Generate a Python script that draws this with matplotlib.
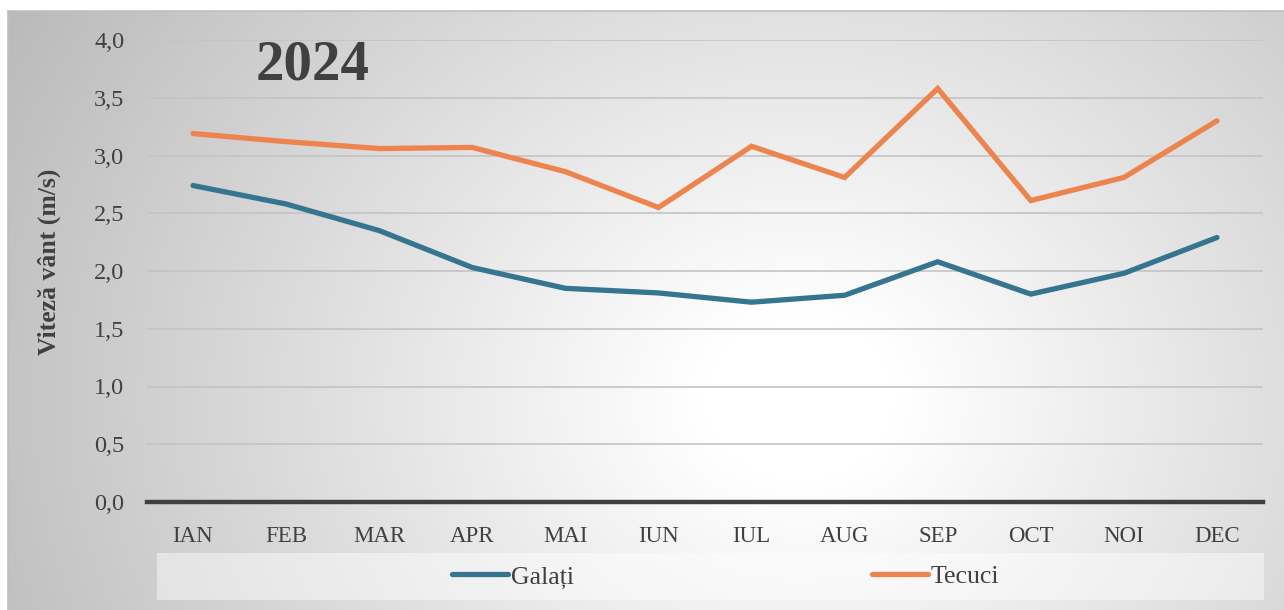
import numpy as np
import matplotlib
matplotlib.use("Agg")
import matplotlib.pyplot as plt
from matplotlib.patches import Rectangle
from matplotlib.lines import Line2D

months = ["IAN", "FEB", "MAR", "APR", "MAI", "IUN", "IUL", "AUG", "SEP", "OCT", "NOI", "DEC"]
galati = [2.74, 2.58, 2.35, 2.03, 1.85, 1.81, 1.73, 1.79, 2.08, 1.80, 1.98, 2.29]
tecuci = [3.19, 3.12, 3.06, 3.07, 2.86, 2.55, 3.08, 2.81, 3.58, 2.61, 2.81, 3.30]
yticks = [0.0, 0.5, 1.0, 1.5, 2.0, 2.5, 3.0, 3.5, 4.0]
ytick_labels = ["0,0", "0,5", "1,0", "1,5", "2,0", "2,5", "3,0", "3,5", "4,0"]
title = "2024"
ylabel = "Viteză vânt (m/s)"
series_names = ["Galați", "Tecuci"]

W, H = 1284, 610
fig = plt.figure(figsize=(W / 100, H / 100), dpi=100)
fig.patch.set_facecolor("white")

SERIF = ["Liberation Serif", "DejaVu Serif"]
TXT = "#404040"

# background gradient (chart area)
x0, y0 = 8, 11
bg = fig.add_axes([x0 / W, 0, 1 - x0 / W, (H - y0) / H], zorder=0)
gx = np.linspace(x0, W, 400)
gy = np.linspace(y0, H, 200)
X, Y = np.meshgrid(gx, gy)
cx, cy, rx, ry = 800, 400, 820, 700
r = np.sqrt(((X - cx) / rx) ** 2 + ((Y - cy) / ry) ** 2)
v = 1 - 0.24 * np.clip((r - 0.12) / 0.88, 0, 1.2)
img = np.dstack([v, v, v])
bg.imshow(img, aspect="auto", extent=[0, 1, 0, 1], origin="upper", interpolation="bilinear")
bg.set_xlim(0, 1)
bg.set_ylim(0, 1)
bg.axis("off")
# border top & left
fig.add_artist(Line2D([x0 / W, 1], [1 - y0 / H, 1 - y0 / H], color="#bfbfbf", lw=1.2, zorder=1))
fig.add_artist(Line2D([x0 / W, x0 / W], [0, 1 - y0 / H], color="#bfbfbf", lw=1.2, zorder=1))

# main axes
L, R, T, B = 146.5, 1263.5, 40, 502
ax = fig.add_axes([L / W, 1 - B / H, (R - L) / W, (B - T) / H], zorder=2)
ax.set_facecolor("none")
x = np.arange(len(months))
ax.plot(x, galati, color="#35758f", lw=3.8, solid_capstyle="round", solid_joinstyle="miter", zorder=4)
ax.plot(x, tecuci, color="#ed834d", lw=3.8, solid_capstyle="round", solid_joinstyle="miter", zorder=4)
ax.set_xlim(-0.5, len(months) - 0.5)
ax.set_ylim(0, 4.0)
ax.set_yticks(yticks)
ax.set_yticklabels(ytick_labels, family=SERIF, fontsize=17.5, color=TXT)
ax.set_xticks(x)
ax.set_xticklabels(months, family=SERIF, fontsize=16.5, color=TXT)
ax.tick_params(axis="both", length=0)
ax.tick_params(axis="y", pad=16)
ax.tick_params(axis="x", pad=17)
for s in ax.spines.values():
    s.set_visible(False)
ax.yaxis.grid(True, color="#c4c4c4", lw=1.2)
ax.set_axisbelow(True)
ax.axhline(0, color="#404040", lw=3.2, zorder=3, clip_on=False)
ax.set_ylabel(ylabel, family=SERIF, fontsize=18.5, fontweight="bold", color=TXT, labelpad=10)
ax.yaxis.set_label_coords((61 - L) / (R - L), 1 - (262 - T) / (B - T))

fig.text(313 / W, 1 - 65 / H, title, family=SERIF, fontsize=41, fontweight="bold",
         color=TXT, ha="center", va="center", zorder=5)

# legend box
fig.add_artist(Rectangle((157 / W, 1 - 600 / H), (1264 - 157) / W, (600 - 553) / H,
                         transform=fig.transFigure, facecolor="white", alpha=0.45,
                         edgecolor="none", zorder=1.5))
handles = [Line2D([], [], color="#35758f", lw=3.8, solid_capstyle="round"),
           Line2D([], [], color="#ed834d", lw=3.8, solid_capstyle="round")]
leg = fig.legend(handles, series_names, loc="center left", bbox_to_anchor=(452 / W, 1 - 577 / H),
                 ncol=2, frameon=False, borderpad=0, borderaxespad=0,
                 handlelength=2.18, handletextpad=0.1, columnspacing=11.6,
                 prop={"family": SERIF, "size": 18.5})
for t in leg.get_texts():
    t.set_color(TXT)

fig.savefig("out.png", dpi=100)
